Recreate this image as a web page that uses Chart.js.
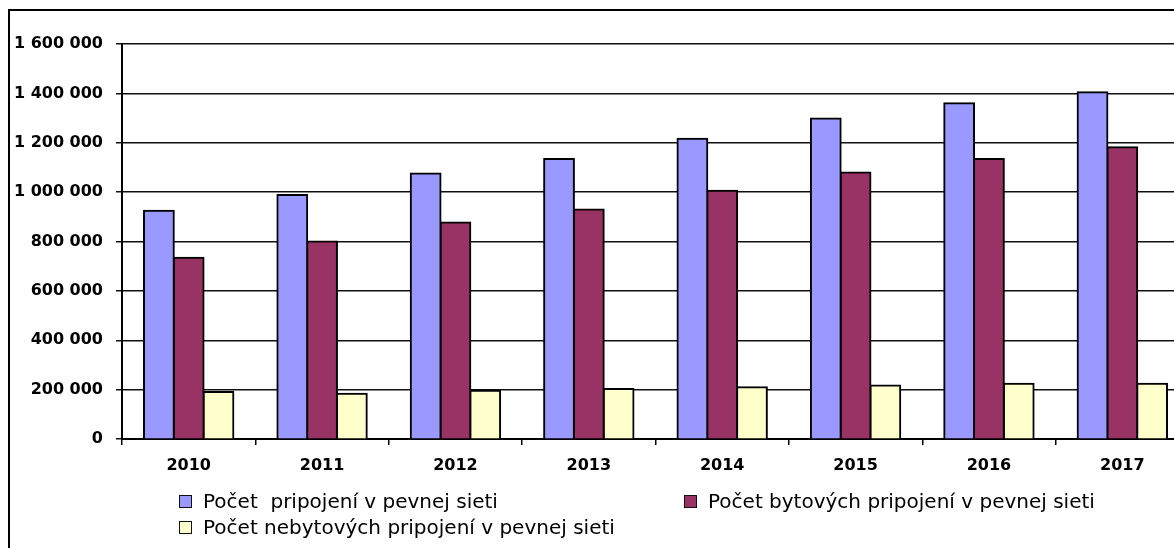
<!DOCTYPE html>
<html>
<head>
<meta charset="utf-8">
<script src="https://cdn.jsdelivr.net/npm/chart.js@4"></script>
<style>
  body { margin: 0; overflow: hidden; background: #fff; }
  #frame { position: absolute; left: 8px; top: 9px; width: 1300px; height: 700px; border: 2px solid #000; }
  #wrap { position: absolute; left: 0; top: 0; width: 1200px; height: 548px; }
  .lg { position: absolute; font-family: "DejaVu Sans", sans-serif; font-size: 20px; line-height: 20px; color: #000; white-space: pre; }
  .box { position: absolute; width: 11px; height: 11px; border: 1.5px solid #111; }
</style>
</head>
<body>
<div id="frame"></div>
<div id="wrap"><canvas id="chart"></canvas></div>
<div id="legend"></div>
<script>
const years = ['2010', '2011', '2012', '2013', '2014', '2015', '2016', '2017'];
const seriesNames = ['Počet  pripojení v pevnej sieti', 'Počet bytových pripojení v pevnej sieti', 'Počet nebytových pripojení v pevnej sieti'];
const total = [925000, 988000, 1075000, 1134000, 1216000, 1298000, 1360000, 1405000];
const residential = [734000, 800000, 877000, 930000, 1006000, 1080000, 1134000, 1182000];
const nonResidential = [190000, 183000, 195000, 203000, 210000, 217000, 224000, 224000];
const colors = ['#9999FF', '#993366', '#FFFFCC'];

const fmt = v => v.toString().replace(/\B(?=(\d{3})+(?!\d))/g, ' ');

const chart = document.getElementById('chart');

new Chart(chart, {
    type: 'bar',
    data: {
        labels: years,
        datasets: [total, residential, nonResidential].map((d, i) => ({
            label: seriesNames[i],
            data: d,
            backgroundColor: colors[i],
            borderColor: '#000',
            borderWidth: 2,
            inflateAmount: 1,
            categoryPercentage: 0.67,
            barPercentage: 1
        }))
    },
    options: {
        responsive: true,
        maintainAspectRatio: false,
        animation: false,
        layout: { padding: { top: 44, left: 10, right: 11, bottom: 69 } },
        plugins: { legend: { display: false }, tooltip: { enabled: false } },
        scales: {
            x: {
                afterFit: s => { s.height = 40; },
                grid: { drawOnChartArea: false, drawTicks: true, tickLength: 6, color: '#000', lineWidth: 1.5 },
                border: { display: true, color: '#000', width: 2 },
                ticks: { padding: 11, color: '#000', font: { family: 'DejaVu Sans', size: 16, weight: 'bold' } }
            },
            y: {
                min: 0,
                max: 1600000,
                afterFit: s => { s.width = 112; },
                grid: { color: '#111', lineWidth: 1.5, tickLength: 6 },
                border: { display: true, color: '#000', width: 2 },
                ticks: {
                    stepSize: 200000,
                    padding: 13,
                    color: '#000',
                    font: { family: 'DejaVu Sans', size: 16, weight: 'bold' },
                    callback: v => fmt(v)
                }
            }
        }
    }
});

// legend laid out like the original two-column block
const legendPos = [[179, 491], [684, 491], [179, 517]];
const legend = document.getElementById('legend');
seriesNames.forEach((name, i) => {
    const [x, y] = legendPos[i];
    const b = document.createElement('div');
    b.className = 'box';
    b.style.left = x + 'px';
    b.style.top = (y + 4) + 'px';
    b.style.background = colors[i];
    legend.appendChild(b);
    const t = document.createElement('div');
    t.className = 'lg';
    t.style.left = (x + 24) + 'px';
    t.style.top = y + 'px';
    t.textContent = name;
    legend.appendChild(t);
});
</script>
</body>
</html>
